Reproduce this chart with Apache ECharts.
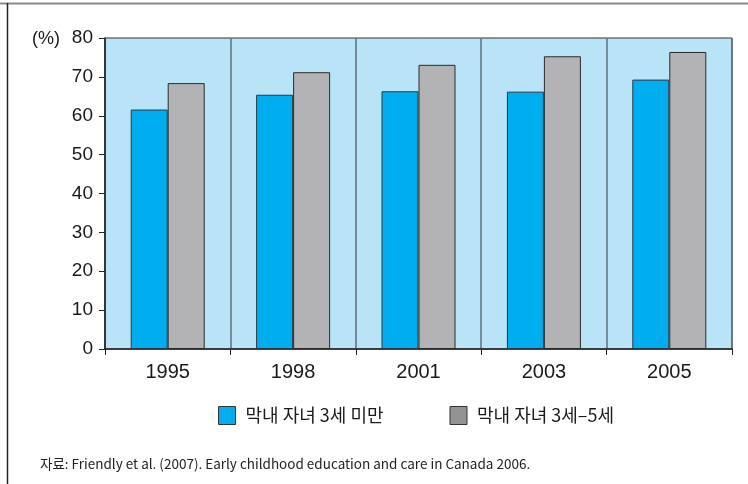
<!DOCTYPE html>
<html>
<head>
<meta charset="utf-8">
<script src="https://cdn.jsdelivr.net/npm/echarts@6/dist/echarts.min.js"></script>
<style>
  html, body { margin: 0; padding: 0; background: #ffffff; }
  #chart { width: 748px; height: 484px; }
</style>
</head>
<body>
<div id="chart"></div>
<script>
const years = ["1995", "1998", "2001", "2003", "2005"];
const under3 = [61.6, 65.4, 66.3, 66.2, 69.3];
const age3to5 = [68.4, 71.2, 73.1, 75.3, 76.4];
const seriesNames = ["막내 자녀 3세 미만", "막내 자녀 3세–5세"];
const yTicks = [0, 10, 20, 30, 40, 50, 60, 70, 80];

const chart = echarts.init(document.getElementById("chart"));

const numFont = "'Liberation Sans', Arial, sans-serif";
const krFont = "'Noto Sans CJK KR', 'Liberation Sans', sans-serif";

chart.setOption({
  animation: false,
  backgroundColor: "#ffffff",
  grid: {
    left: 105,
    right: 16,
    top: 38,
    bottom: 135,
    show: true,
    backgroundColor: "#b9e4f8",
    borderColor: "#333333",
    borderWidth: 1,
  },
  legend: {
    data: [
      { name: seriesNames[0], itemStyle: { color: "#00aeef", borderColor: "#333", borderWidth: 1 } },
      { name: seriesNames[1], itemStyle: { color: "#939393", borderColor: "#333", borderWidth: 1 } },
    ],
    left: 213,
    top: 401,
    icon: "rect",
    itemWidth: 17,
    itemHeight: 18,
    itemGap: 66,
    textStyle: { fontFamily: krFont, fontSize: 18, color: "#1a1a1a", padding: [0, 0, 0, 5] },
  },
  tooltip: { show: false },
  xAxis: {
    type: "category",
    data: years,
    axisLine: { lineStyle: { color: "#222", width: 1.5 } },
    axisTick: { show: true, length: 6, lineStyle: { color: "#222" } },
    axisLabel: { fontFamily: numFont, fontSize: 20, color: "#1a1a1a", margin: 13 },
    splitLine: { show: true, lineStyle: { color: "#5f6f7c", width: 1.5 } },
  },
  yAxis: {
    type: "value",
    min: yTicks[0],
    max: yTicks[yTicks.length - 1],
    interval: 10,
    axisLine: { show: true, lineStyle: { color: "#222", width: 1.5 } },
    axisTick: { show: true, length: 6, lineStyle: { color: "#222" } },
    axisLabel: { fontFamily: numFont, fontSize: 19, color: "#1a1a1a", margin: 12 },
    splitLine: { show: false },
  },
  series: [
    {
      name: seriesNames[0],
      type: "bar",
      data: under3,
      barWidth: 37,
      barGap: "0%",
      itemStyle: { color: "#00aeef", borderColor: "#2a3a44", borderWidth: 1 },
    },
    {
      name: seriesNames[1],
      type: "bar",
      data: age3to5,
      barWidth: 37,
      barGap: "0%",
      itemStyle: { color: "#b3b3b5", borderColor: "#2a2a2a", borderWidth: 1 },
    },
  ],
  graphic: [
    // outer frame: gray top line and dark left line
    { type: "line", shape: { x1: 0, y1: 3.5, x2: 748, y2: 3.5 }, style: { stroke: "#8a8a8a", lineWidth: 2 } },
    { type: "line", shape: { x1: 7.5, y1: 3, x2: 7.5, y2: 484 }, style: { stroke: "#222", lineWidth: 1.5 } },
    {
      type: "text",
      left: 32,
      top: 30,
      style: { text: "(%)", fontFamily: numFont, fontSize: 18, fill: "#1a1a1a" },
    },
    {
      type: "text",
      left: 40,
      top: 457,
      style: {
        text: "자료: Friendly et al. (2007). Early childhood education and care in Canada 2006.",
        fontFamily: krFont,
        fontSize: 13.5,
        fill: "#222",
      },
    },
  ],
});
</script>
</body>
</html>
